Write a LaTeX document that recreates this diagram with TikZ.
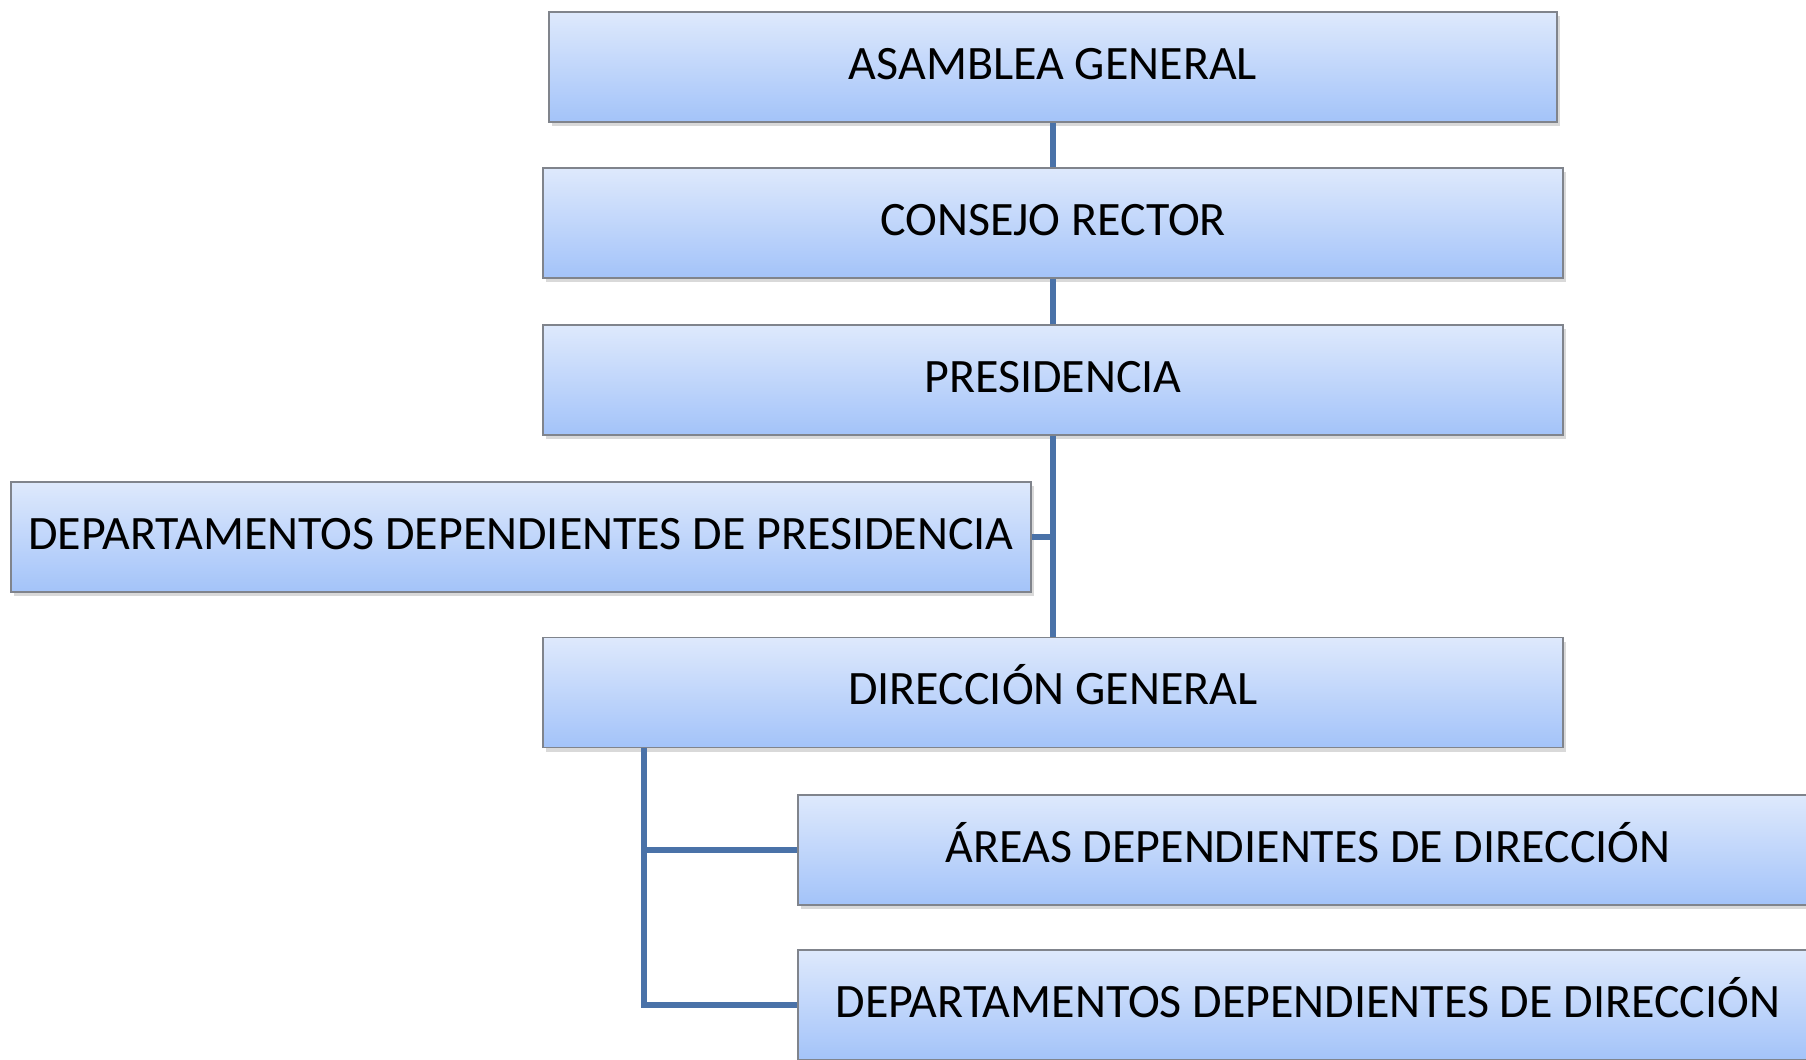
\documentclass[tikz,border=0pt]{standalone}
\usepackage{fontspec}
\setmainfont{Carlito}
\usetikzlibrary{shadows}

\definecolor{boxtop}{RGB}{222,233,252}
\definecolor{boxbottom}{RGB}{163,195,249}
\definecolor{boxborder}{RGB}{128,132,140}
\definecolor{linkblue}{RGB}{74,114,168}

\begin{document}
\begin{tikzpicture}[
    % Org chart boxes
    orgbox/.style={draw=boxborder, line width=0.8pt, top color=boxtop, bottom color=boxbottom,
        minimum width=20.4cm, minimum height=2.2cm, inner sep=0pt,
        text height=0.6cm, text depth=0.12cm,
        font=\fontsize{27.3}{31}\selectfont,
        drop shadow={shadow xshift=0.06cm, shadow yshift=-0.08cm, opacity=0.25, fill=black!60}},
    % Connecting lines
    link/.style={linkblue, line width=0.12cm},
]

\useasboundingbox (0,0) rectangle (36.12,-21.18);
\begin{scope}
\clip (0,0) rectangle (36.12,-21.18);

% === MAIN LINE ===
\node[orgbox, minimum width=20.16cm] (asamblea) at (21.06,-1.34) {ASAMBLEA GENERAL};
\node[orgbox] (consejo) at (21.06,-4.46) {CONSEJO RECTOR};
\node[orgbox] (presidencia) at (21.06,-7.6) {PRESIDENCIA};
\node[orgbox] (deppres) at (10.42,-10.74) {DEPARTAMENTOS DEPENDIENTES DE PRESIDENCIA};
\node[orgbox] (direccion) at (21.06,-13.85) {DIRECCIÓN GENERAL};

% === UNDER DIRECCION ===
\node[orgbox] (areas) at (26.16,-17.0) {ÁREAS DEPENDIENTES DE DIRECCIÓN};
\node[orgbox] (depdir) at (26.16,-20.1) {DEPARTAMENTOS DEPENDIENTES DE DIRECCIÓN};

\coordinate (dirbranch) at ([xshift=2.04cm]direccion.south west);

% Links
\draw[link] (asamblea.south) -- (consejo.north);
\draw[link] (consejo.south) -- (presidencia.north);
\draw[link] (presidencia.south) -- (direccion.north);
\draw[link] (deppres.east) -- (presidencia.south |- deppres.east);
\draw[link] (dirbranch) |- (areas.west);
\draw[link] (dirbranch) |- (depdir.west);
\end{scope}

\end{tikzpicture}
\end{document}
